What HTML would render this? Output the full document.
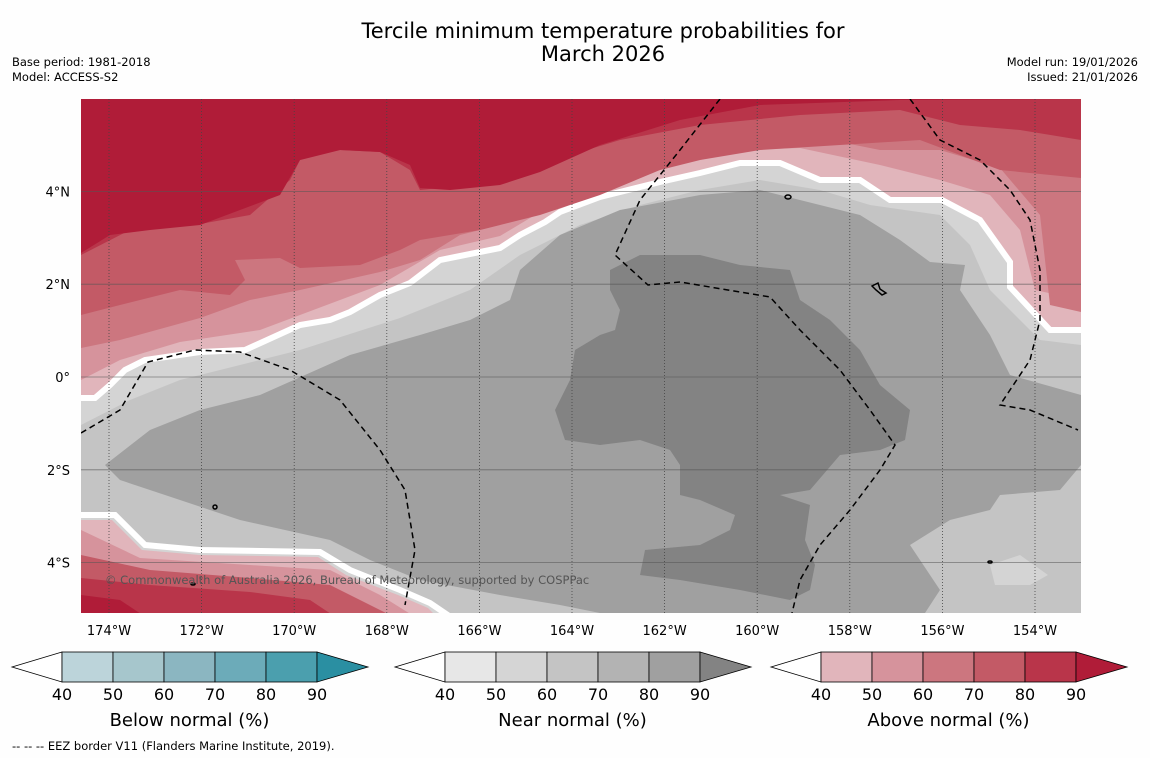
<!DOCTYPE html>
<html><head><meta charset="utf-8"><style>
body{margin:0;background:#fff;width:1150px;height:758px;overflow:hidden;font-family:"DejaVu Sans",sans-serif;}
svg text{font-family:"DejaVu Sans",sans-serif;}
</style></head><body>
<svg id="root" width="1150" height="758" xmlns="http://www.w3.org/2000/svg">
<rect width="1150" height="758" fill="#fefefe"/>
<text x="603" y="38" font-size="21" text-anchor="middle">Tercile minimum temperature probabilities for</text>
<text x="603" y="61" font-size="21" text-anchor="middle">March 2026</text>
<text x="12" y="66" font-size="11.5">Base period: 1981-2018</text>
<text x="12" y="81" font-size="11.5">Model: ACCESS-S2</text>
<text x="1138" y="66" font-size="11.5" text-anchor="end">Model run: 19/01/2026</text>
<text x="1138" y="81" font-size="11.5" text-anchor="end">Issued: 21/01/2026</text>
<defs><clipPath id="mc"><rect x="81" y="99" width="1000" height="514"/></clipPath></defs>
<g clip-path="url(#mc)">
<rect x="81" y="99" width="1000" height="514" fill="#c4c4c4"/>
<polygon fill="#d4d4d4" points="81,99 81,425 130,400 180,380 260,360 300,350 400,318 470,290 520,255 580,225 640,205 700,190 760,180 820,190 870,205 940,215 970,245 990,290 1040,340 1081,345 1081,99"/>
<polygon fill="#a0a0a0" points="105,465 150,430 200,410 260,395 350,355 420,335 470,320 510,300 520,270 560,235 620,210 700,195 760,190 800,200 860,215 900,240 930,262 965,265 960,290 990,335 1010,375 1081,395 1081,465 1060,490 1000,495 990,510 950,520 910,545 940,590 925,613 600,613 560,605 500,595 420,580 370,560 330,540 240,520 180,500 120,480"/>
<polygon fill="#838383" points="610,270 640,255 700,255 740,265 790,270 800,300 830,320 860,350 880,385 910,410 905,440 880,450 840,455 810,490 780,495 810,505 805,540 815,565 810,590 790,600 740,590 680,580 640,575 645,550 700,545 730,530 735,515 700,500 680,495 680,465 670,450 640,440 600,445 565,440 555,410 570,380 575,350 600,335 615,330 620,310 610,290"/>
<polygon fill="#d4d4d4" points="990,565 1020,555 1048,575 1030,585 995,585"/>
<polygon fill="#e1b5bb" stroke="#fff" stroke-width="6" points="78,398 95,398 110,385 125,370 145,360 200,352 245,350 300,325 330,320 350,312 380,295 410,283 440,260 500,248 520,235 545,222 560,212 600,197 660,182 700,173 740,163 780,163 820,180 860,180 890,200 942,200 980,220 1010,262 1010,287 1050,330 1090,330 1090,90 78,90"/>
<polygon fill="#d6939c" points="81,380 120,360 180,342 260,330 300,315 380,285 440,250 500,236 560,200 620,180 680,165 740,150 800,148 880,165 940,180 990,195 1020,230 1035,290 1081,300 1081,99 81,99"/>
<polygon fill="#cc767f" points="81,348 120,340 200,318 250,300 300,290 380,272 420,260 460,235 500,225 560,195 600,180 640,165 700,150 760,140 820,138 880,150 940,150 1000,168 1040,215 1050,305 1081,312 1081,99 81,99"/>
<polygon fill="#c35a66" points="81,315 120,305 180,290 230,295 245,280 235,260 280,258 300,268 360,265 400,250 420,240 480,230 540,215 600,195 660,170 700,160 760,150 840,145 920,140 960,155 1000,170 1081,178 1081,99 81,99"/>
<polygon fill="#b9354a" points="81,255 130,230 200,224 250,215 290,180 300,160 340,150 380,152 410,170 420,190 500,182 560,158 620,140 700,125 800,115 900,110 960,125 1020,130 1081,140 1081,99 81,99"/>
<polygon fill="#b01c38" points="81,253 110,235 150,230 200,225 240,210 280,195 300,160 340,150 380,152 410,165 420,188 450,190 500,185 540,172 600,145 680,120 760,105 900,100 1081,99 81,99"/>
<polygon fill="#d4d4d4" stroke="#fff" stroke-width="6" points="78,515 115,515 145,545 200,550 320,552 350,570 400,590 430,603 455,620 78,620"/>
<polygon fill="#e1b5bb" points="81,520 112,520 142,550 200,555 318,557 346,575 398,595 428,608 440,620 81,620"/>
<polygon fill="#d6939c" points="81,530 140,558 250,565 330,570 380,595 420,620 81,620"/>
<polygon fill="#c35a66" points="81,555 150,570 250,578 330,585 370,605 400,620 81,620"/>
<polygon fill="#b9354a" points="81,578 150,585 250,592 310,600 340,620 81,620"/>
<polygon fill="#b01c38" points="81,595 120,600 150,620 81,620"/>
<g id="grid"></g>
<g fill="none" stroke="#000" stroke-width="1.5" stroke-dasharray="6,4">
<polyline points="81,433 120,410 148,362 195,350 240,352 290,370 340,400 380,450 405,490 415,550 405,605"/>
<polyline points="720,99 680,150 640,200 615,255 648,285 680,282 770,297 800,330 840,370 870,410 895,445 880,470 850,510 820,545 800,580 792,613"/>
<polyline points="910,99 940,140 980,160 1010,190 1030,220 1040,270 1040,320 1030,360 1000,405 1030,410 1078,430"/>
</g>
<g fill="none" stroke="#000" stroke-width="1.5">
<ellipse cx="788" cy="197" rx="3" ry="2"/><path d="M872,286 l6,-3 l2,6 l6,4 l-4,2 l-6,-5 z"/><ellipse cx="215" cy="507" rx="2" ry="2"/><ellipse cx="193" cy="584" rx="2" ry="1"/><ellipse cx="990" cy="562" rx="2" ry="1"/>
</g>
<text x="105" y="584" font-size="11.5" fill="#555">© Commonwealth of Australia 2026, Bureau of Meteorology, supported by COSPPac</text>
</g>
<g id="axes"></g>
<g id="cbars"></g>
<text x="12" y="750" font-size="11.5">--  --  -- EEZ border V11 (Flanders Marine Institute, 2019).</text>
</svg>
<script>
const lonTicks=[174,172,170,168,166,164,162,160,158,156,154];
const latTicks=[4,2,0,-2,-4];
const cbarTicks=[40,50,60,70,80,90];
const belowColors=["#bcd4da","#a6c6cc","#8bb6c1","#6cabb9","#4b9fae","#2a8fa2"];
const nearColors=["#e7e7e7","#d5d5d5","#c4c4c4","#b3b3b3","#a0a0a0","#838383"];
const aboveColors=["#e1b5bb","#d6939c","#cc767f","#c35a66","#b9354a","#b01c38"];
const NS="http://www.w3.org/2000/svg";
function xLon(l){return 109+(174-l)*46.3;}
function yLat(l){return 377-l*46.4;}
function mk(tag,attrs,parent){const e=document.createElementNS(NS,tag);for(const k in attrs)e.setAttribute(k,attrs[k]);parent.appendChild(e);return e;}
const grid=document.getElementById('grid'),axes=document.getElementById('axes');
lonTicks.forEach(l=>{const x=xLon(l);
const ln=mk('line',{x1:x,x2:x,y1:99,y2:613,stroke:'#444','stroke-width':0.8,'stroke-dasharray':'1,2'},grid);


const t=mk('text',{x:x,y:635,'font-size':13,'text-anchor':'middle'},axes);t.textContent=l+'°W';

});
latTicks.forEach(l=>{const y=yLat(l);
const ln=mk('line',{x1:81,x2:1081,y1:y,y2:y,stroke:'#555','stroke-width':0.8,'stroke-opacity':0.7},grid);


const t=mk('text',{x:70,y:y+5,'font-size':13,'text-anchor':'end'},axes);t.textContent=l===0?'0°':Math.abs(l)+'°'+(l>0?'N':'S');

});
const cb=document.getElementById('cbars');
[[12,belowColors,'Below normal (%)'],[395,nearColors,'Near normal (%)'],[771,aboveColors,'Above normal (%)']].forEach(([x0,cols,title])=>{
const g=mk('g',{},cb);
const seg=51,y0=652,h=30,start=x0+50;
const lt=mk('polygon',{points:`${start},${y0} ${x0},${y0+h/2} ${start},${y0+h}`,fill:'#fff',stroke:'#000','stroke-width':0.8},g);

for(let i=0;i<5;i++){const r=mk('rect',{x:start+i*seg,y:y0,width:seg,height:h,fill:cols[i],stroke:'#000','stroke-width':0.8},g);
}
const end=start+5*seg;
const rt=mk('polygon',{points:`${end},${y0} ${end+51},${y0+h/2} ${end},${y0+h}`,fill:cols[5],stroke:'#000','stroke-width':0.8},g);

cbarTicks.forEach((v,i)=>{const t=mk('text',{x:start+i*seg,y:700,'font-size':16,'text-anchor':'middle'},g);t.textContent=v;
});
const tt=mk('text',{x:start+2.5*seg,y:726,'font-size':18,'text-anchor':'middle'},g);tt.textContent=title;
});
</script>
</body></html>
